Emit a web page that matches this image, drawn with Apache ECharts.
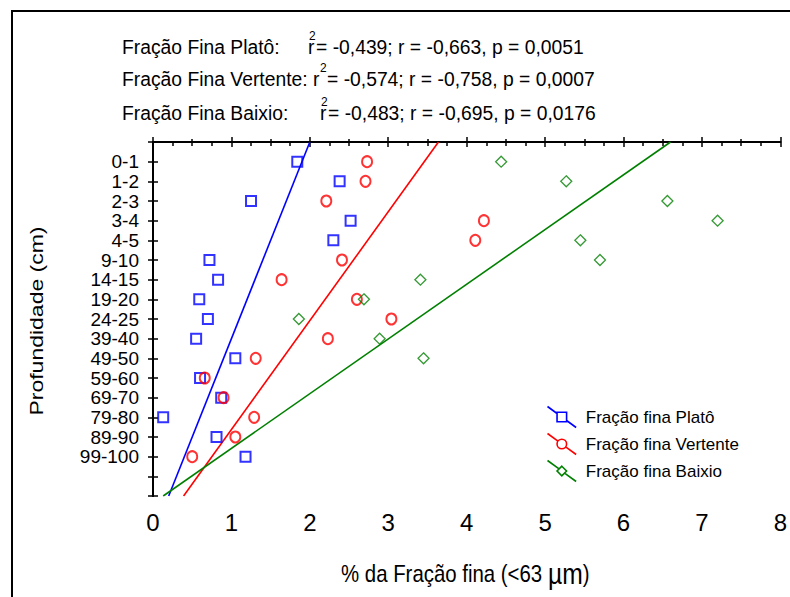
<!DOCTYPE html>
<html>
<head>
<meta charset="utf-8">
<script src="https://cdn.jsdelivr.net/npm/echarts@6/dist/echarts.min.js"></script>
<style>
  html, body { margin: 0; padding: 0; background: #ffffff; }
  #chart { width: 790px; height: 597px; }
</style>
</head>
<body>
<div id="chart"></div>
<script>
// Sampling depths (cm), listed from the surface downwards
const depthLabels = ['0-1', '1-2', '2-3', '3-4', '4-5', '9-10', '14-15', '19-20',
  '24-25', '39-40', '49-50', '59-60', '69-70', '79-80', '89-90', '99-100'];

// Fine fraction (% < 63 µm) per depth
const platoValues    = [1.84, 2.38, 1.25, 2.52, 2.30, 0.72, 0.83, 0.59, 0.70, 0.55, 1.05, 0.60, 0.87, 0.13, 0.81, 1.18];
const vertenteValues = [2.73, 2.71, 2.21, 4.22, 4.11, 2.41, 1.64, 2.60, 3.04, 2.23, 1.31, 0.66, 0.90, 1.29, 1.05, 0.50];
const baixioValues   = [4.44, 5.27, 6.56, 7.20, 5.45, 5.70, 3.41, 2.69, 1.86, 2.89, 3.45];

// Fitted lines: fine fraction at the top and at the bottom of the depth scale
const fitPositions = [0, 18];
const platoFit     = [2.00, 0.20];
const vertenteFit  = [3.64, 0.39];
const baixioFit    = [6.60, 0.13];

// Correlation statistics
const statNames  = ['Fração Fina Platô:', 'Fração Fina Vertente:', 'Fração Fina Baixio:'];
const statValues = ['= -0,439; r = -0,663, p = 0,0051',
                    '= -0,574; r = -0,758, p = 0,0007',
                    '= -0,483; r = -0,695, p = 0,0176'];

const seriesNames = ['Fração fina Platô', 'Fração fina Vertente', 'Fração fina Baixio'];
const colors = ['#0000ff', '#ff0000', '#008000'];

const FONT = 'Liberation Sans, Arial, sans-serif';

const toPoints = vals => vals.map((v, i) => [v, i + 1]);
const toLine = fit => fit.map((v, i) => [v, fitPositions[i]]);

// statistics block, one line per landscape unit
const statLayout = [
  { y: 47, rX: 308, supX: 309, restX: 316 },
  { y: 79, rX: 313, supX: 320, restX: 327 },
  { y: 113, rX: 320, supX: 321, restX: 328 }
];
const textScale = 0.92;
const graphics = [
  { type: 'rect', shape: { x: 12, y: 11, width: 900, height: 700 },
    style: { fill: 'none', stroke: '#000', lineWidth: 2 }, silent: true }
];
statLayout.forEach((L, i) => {
  graphics.push({ type: 'text', x: 122, y: L.y, scaleX: textScale,
    style: { text: statNames[i], font: '21px ' + FONT, fill: '#000', verticalAlign: 'middle' } });
  graphics.push({ type: 'text', x: L.rX, y: L.y, scaleX: textScale,
    style: { text: 'r', font: '21px ' + FONT, fill: '#000', verticalAlign: 'middle' } });
  graphics.push({ type: 'text', x: L.supX, y: L.y - 11, scaleX: textScale,
    style: { text: '2', font: '13px ' + FONT, fill: '#000', verticalAlign: 'middle' } });
  graphics.push({ type: 'text', x: L.restX, y: L.y, scaleX: textScale,
    style: { text: statValues[i], font: '21px ' + FONT, fill: '#000', verticalAlign: 'middle' } });
});
// axis titles
graphics.push({ type: 'text', x: 36, y: 321, rotation: Math.PI / 2, scaleY: 0.8,
  style: { text: 'Profundidade (cm)', font: '23px ' + FONT, fill: '#000', align: 'center', verticalAlign: 'middle' } });
graphics.push({ type: 'text', x: 341, y: 574, scaleX: 0.85,
  style: {
    text: '{a|% da Fração fina (<63 }{b|µm}{a|)}',
    rich: {
      a: { font: '24px ' + FONT, fill: '#000' },
      b: { font: '29px ' + FONT, fill: '#000' }
    },
    verticalAlign: 'middle'
  } });

// legend icons: slanted line crossed by the open marker
const legendIcons = [
  'path://M0,0L10,7.33M10,6L20,6L20,16L10,16ZM20,14.67L30,22',
  'path://M0,0L10.97,8.05M10,11A5,5,0,1,0,20,11A5,5,0,1,0,10,11ZM19.03,13.95L30,22',
  'path://M0,0L12.12,8.88M15,6L20,11L15,16L10,11ZM17.88,13.12L30,22'
];

const axisLineStyle = { color: '#000', width: 2 };
const tickStyle = { color: '#000', width: 1.5 };

const option = {
  backgroundColor: '#ffffff',
  animation: false,
  grid: { left: 153, top: 142, width: 635, height: 354, containLabel: false },
  xAxis: [
    {
      type: 'value', position: 'bottom', min: 0, max: 8, interval: 1,
      axisLine: { show: true, lineStyle: axisLineStyle },
      axisTick: { show: true, inside: true, length: 5, lineStyle: tickStyle },
      minorTick: { show: true, splitNumber: 2, length: 3, lineStyle: tickStyle },
      splitLine: { show: false },
      axisLabel: { show: true, margin: 14, fontSize: 24, fontFamily: FONT, color: '#000',
        showMinLabel: true, showMaxLabel: true }
    },
    {
      type: 'value', position: 'top', min: 0, max: 8, interval: 1,
      axisLine: { show: true, lineStyle: axisLineStyle },
      axisTick: { show: true, inside: true, length: 5, lineStyle: tickStyle },
      minorTick: { show: true, splitNumber: 4, length: 4, lineStyle: tickStyle },
      splitLine: { show: false },
      axisLabel: { show: false }
    }
  ],
  yAxis: [
    {
      type: 'value', position: 'left', inverse: true, min: 0, max: 18, interval: 1,
      axisLine: { show: true, lineStyle: axisLineStyle },
      axisTick: { show: true, inside: true, length: 5, lineStyle: tickStyle },
      splitLine: { show: false },
      axisLabel: {
        show: true, margin: 14, fontSize: 19, lineHeight: 18, fontFamily: FONT, color: '#000',
        formatter: v => depthLabels[v - 1] || ''
      }
    },
    {
      type: 'value', position: 'right', inverse: true, min: 0, max: 18, interval: 1,
      axisLine: { show: true, lineStyle: axisLineStyle },
      axisTick: { show: true, inside: true, length: 5, lineStyle: tickStyle },
      splitLine: { show: false },
      axisLabel: { show: false }
    }
  ],
  legend: {
    orient: 'vertical', left: 545, top: 404, padding: 0,
    itemWidth: 30, itemHeight: 21, itemGap: 1,
    textStyle: { fontSize: 17, fontFamily: FONT, color: '#000', padding: [0, 0, 0, 4] },
    data: seriesNames.map((n, i) => ({
      name: n, icon: legendIcons[i],
      itemStyle: { color: 'none', borderColor: colors[i], borderWidth: 1.6 }
    })),
    selectedMode: false
  },
  graphic: graphics,
  series: [
    { name: seriesNames[0], type: 'line', data: toLine(platoFit), showSymbol: false, symbol: 'rect',
      lineStyle: { color: colors[0], width: 1.6 }, itemStyle: { color: colors[0] }, silent: true, z: 2 },
    { name: seriesNames[1], type: 'line', data: toLine(vertenteFit), showSymbol: false, symbol: 'circle',
      lineStyle: { color: colors[1], width: 1.6 }, itemStyle: { color: colors[1] }, silent: true, z: 2 },
    { name: seriesNames[2], type: 'line', data: toLine(baixioFit), showSymbol: false, symbol: 'diamond',
      lineStyle: { color: colors[2], width: 1.6 }, itemStyle: { color: colors[2] }, silent: true, z: 2 },
    { name: seriesNames[0], type: 'scatter', data: toPoints(platoValues), symbol: 'rect', symbolSize: 10,
      itemStyle: { color: 'none', borderColor: colors[0], borderWidth: 2 }, z: 3 },
    { name: seriesNames[1], type: 'scatter', data: toPoints(vertenteValues), symbol: 'circle', symbolSize: [10, 11],
      itemStyle: { color: 'none', borderColor: colors[1], borderWidth: 2 }, z: 3 },
    { name: seriesNames[2], type: 'scatter', data: toPoints(baixioValues), symbol: 'diamond', symbolSize: [11, 11],
      itemStyle: { color: 'none', borderColor: colors[2], borderWidth: 1.3 }, z: 3 }
  ]
};

const chart = echarts.init(document.getElementById('chart'), null, { renderer: 'svg' });
chart.setOption(option);
</script>
</body>
</html>
